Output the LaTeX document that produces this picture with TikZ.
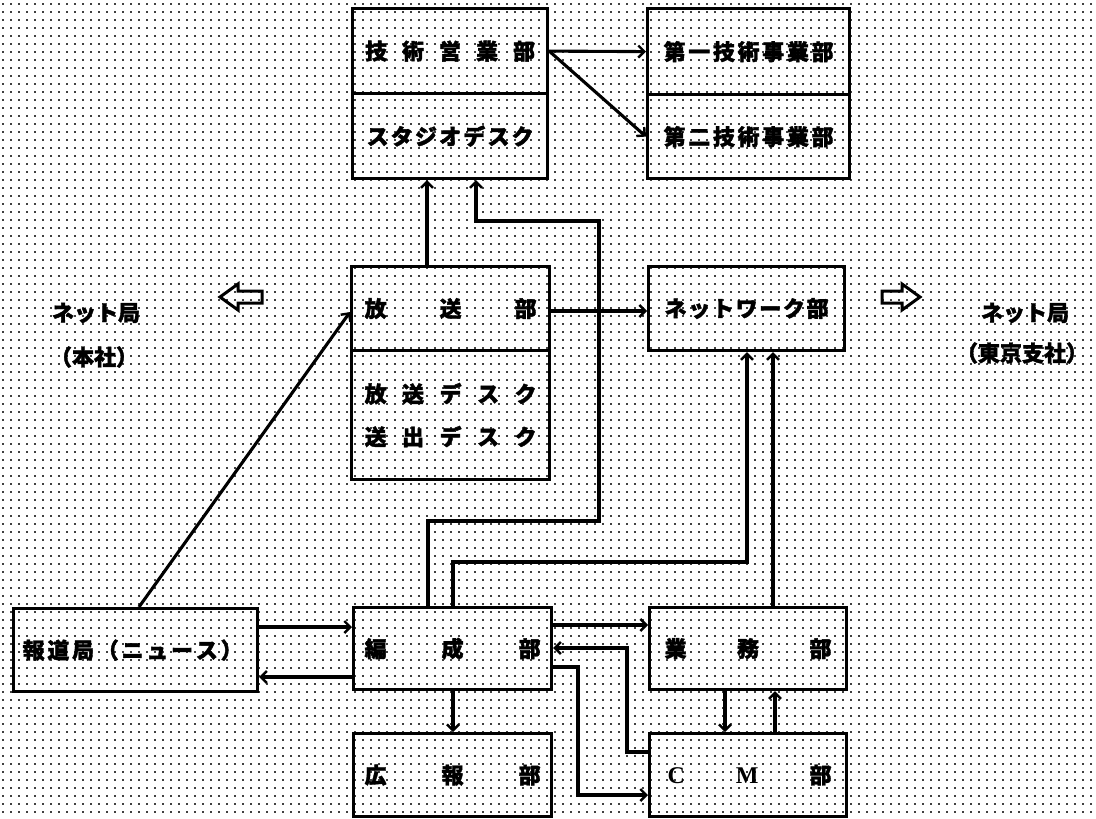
\documentclass[tikz,border=0pt]{standalone}
\usepackage{fontspec}
\newfontfamily\jp{Noto Sans CJK JP}[BoldFeatures={FakeBold=1.6}]
\newfontfamily\lat{Liberation Serif}
\usetikzlibrary{arrows.meta}
\tikzset{
  jpfont/.style={font=\jp\bfseries\fontsize{22}{22}\selectfont},
  box/.style={draw, line width=3.2pt, inner sep=0pt, anchor=north west, jpfont},
  conn/.style={line width=3.1pt, line join=miter, -{Straight Barb[length=6pt,width=12pt,line width=2.4pt]}},
  lbl/.style={inner sep=0pt, jpfont},
  griddot/.style={black!75, line width=1.5pt, dash pattern=on 1.5pt off 6.5pt},
  hollow/.style={draw, line width=3pt, line join=miter}
}
\newcommand\sprd[2]{\makebox[#1pt][s]{#2}}
\begin{document}
\begin{tikzpicture}[x=1pt,y=-1pt]
\useasboundingbox (0,0) rectangle (1096,819);
% background dotted texture
\begin{scope}
\clip (0,0) rectangle (1096,819);
\foreach \yy in {4,12,...,818} \draw[griddot] (2,\yy) -- (1096,\yy);
\end{scope}

% boxes
\node[box, minimum width=195pt, minimum height=85pt] (gA) at (351,7) {\sprd{170}{技\hfill 術\hfill 営\hfill 業\hfill 部}};
\node[box, minimum width=195pt, minimum height=85pt] (gB) at (351,92) {\sprd{167}{ス\hfill タ\hfill ジ\hfill オ\hfill デ\hfill ス\hfill ク}};
\node[box, minimum width=202pt, minimum height=86pt] (jA) at (646,7) {\sprd{170}{第\hfill 一\hfill 技\hfill 術\hfill 事\hfill 業\hfill 部}};
\node[box, minimum width=202pt, minimum height=84pt] (jB) at (646,93) {\sprd{170}{第\hfill 二\hfill 技\hfill 術\hfill 事\hfill 業\hfill 部}};
\node[box, minimum width=198pt, minimum height=84pt] (hA) at (350,265) {\sprd{172}{放\hfill 送\hfill 部}};
\node[box, minimum width=198pt, minimum height=129pt, align=center] (hB) at (350,349) {\sprd{172}{放\hfill 送\hfill デ\hfill ス\hfill ク}\\[21pt]\sprd{172}{送\hfill 出\hfill デ\hfill ス\hfill ク}};
\node[box, minimum width=196pt, minimum height=84pt] (net) at (647,265) {\sprd{164}{ネ\hfill ッ\hfill ト\hfill ワ\hfill ー\hfill ク\hfill 部}};
\node[box, minimum width=244pt, minimum height=83pt] (news) at (12,607) {\hspace{-6pt}\sprd{220}{報\hfill 道\hfill 局\hfill （\hfill ニ\hfill ュ\hfill ー\hfill ス\hfill ）}};
\node[box, minimum width=198pt, minimum height=82pt] (hen) at (352,606) {\sprd{176}{編\hfill 成\hfill 部}};
\node[box, minimum width=197pt, minimum height=82pt] (gyo) at (648,606) {\sprd{167}{業\hfill 務\hfill 部}};
\node[box, minimum width=198pt, minimum height=83pt] (koho) at (352,732) {\sprd{176}{広\hfill 報\hfill 部}};
\node[box, minimum width=197pt, minimum height=83pt] (cm) at (648,732) {\sprd{167}{\hspace{3pt}{\lat\bfseries\fontsize{24}{24}\selectfont C}\hfill {\lat\bfseries\fontsize{24}{24}\selectfont M}\hfill 部}};

% side labels
\node[lbl] (lnet) at (96,313) {ネット局};
\node[lbl] (lhon) at (94,357) {（本社）};
\node[lbl] (rnet) at (1025,313) {ネット局};
\node[lbl] (rtok) at (1022,353) {（東京支社）};

% hollow arrows
\draw[hollow] (220,297) -- (238,284) -- (238,291) -- (262,291) -- (262,303) -- (238,303) -- (238,310) -- cycle;
\draw[hollow] (920,297) -- (902,284) -- (902,291) -- (882,291) -- (882,303) -- (902,303) -- (902,310) -- cycle;

% helper coordinates
\coordinate (x427) at (427,0);
\coordinate (x139) at (139,0);
\coordinate (x773) at (773,0);
\coordinate (x725) at (725,0);
\coordinate (x775) at (775,0);
\coordinate (y311) at (0,311);
\coordinate (y312) at (0,312);
\coordinate (y627) at (0,627);
\coordinate (y677) at (0,677);
\coordinate (y625) at (0,625);
\coordinate (k1) at (428,521);
\coordinate (k2) at (599,521);
\coordinate (k3) at (599,221);
\coordinate (k4) at (476,221);
\coordinate (m1) at (453,562);
\coordinate (m2) at (747,562);
\coordinate (n1) at (627,752);
\coordinate (n2) at (627,648);
\coordinate (q1) at (578,667);
\coordinate (q2) at (578,795);

% connectors
\draw[conn] (gA.east) -- (jA.west);
\draw[conn] (gA.east) -- (jB.west);
\draw[conn] (hA.north -| x427) -- (gB.south -| x427);
\draw[conn] (hen.north -| k1) -- (k1) -- (k2) -- (k3) -- (k4) -- (gB.south -| k4);
\draw[conn] (hen.north -| m1) -- (m1) -- (m2) -- (net.south -| m2);
\draw[conn] (gyo.north -| x773) -- (net.south -| x773);
\draw[conn] (hA.east |- y311) -- (net.west |- y311);
\draw[conn] (news.north -| x139) -- (hA.west |- y312);
\draw[conn] (news.east |- y627) -- (hen.west |- y627);
\draw[conn] (hen.west |- y677) -- (news.east |- y677);
\draw[conn] (hen.east |- y625) -- (gyo.west |- y625);
\draw[conn] (cm.west |- n1) -- (n1) -- (n2) -- (hen.east |- n2);
\draw[conn] (hen.east |- q1) -- (q1) -- (q2) -- (cm.west |- q2);
\draw[conn] (hen.south -| m1) -- (koho.north -| m1);
\draw[conn] (gyo.south -| x725) -- (cm.north -| x725);
\draw[conn] (cm.north -| x775) -- (gyo.south -| x775);
\end{tikzpicture}
\end{document}
